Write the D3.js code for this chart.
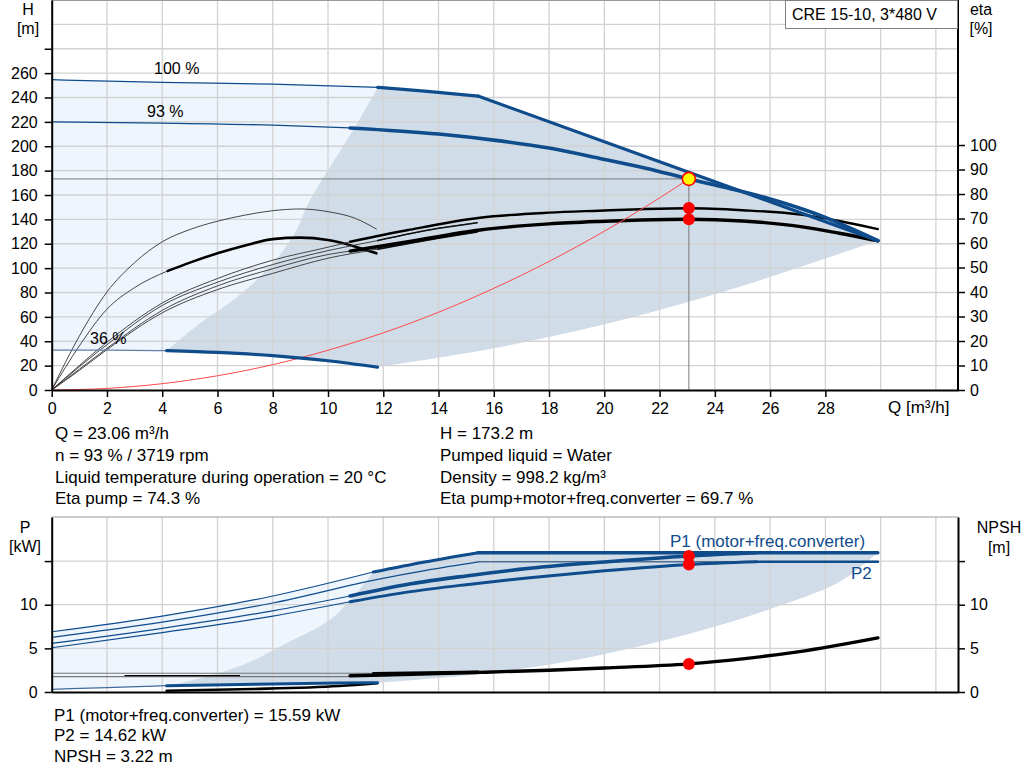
<!DOCTYPE html>
<html>
<head>
<meta charset="utf-8">
<script src="https://cdn.jsdelivr.net/npm/d3@7"></script>
<style>
  body { margin: 0; background: #fff; }
  svg { display: block; font-family: "Liberation Sans", Arial, sans-serif; }
  .axis text { font-size: 16px; fill: #000; }
</style>
</head>
<body>
<script>
// ---- data ----
// Q [m3/h], H [m]
const h100Thin = [[0, 254.6], [4, 252.4], [8, 251], [11.8, 248.3]];
const h100Thick = [[11.8, 248.3], [13.6, 245], [15.43, 241.2]];
const hMaxPower = [[15.43, 241.2], [29.9, 122.5]];
const h93Thin = [[0, 220], [4, 219], [8, 217.3], [10.8, 215]];
const h93Thick = [[10.8, 215], [14, 210], [16, 205], [18, 198.5], [19.84, 190], [21.5, 182],
                  [23.06, 173.2], [24.5, 165.5], [25.88, 157.5], [27.6, 145], [29.9, 122.5]];
const h36Thin = [[0, 32.8], [2, 32.8], [4.16, 32.3]];
const h36Thick = [[4.16, 32.3], [6, 30.8], [8, 28.2], [10, 24], [11.79, 18.7]];
const hLeftBound = [[11.8, 248.3], [10.9, 213], [10, 180.5], [9.35, 156], [8.75, 127], [7.78, 98.4],
                    [6.57, 73.8], [5.37, 54.7], [4.16, 32.3]];
const hLowBound = [[11.79, 18.7], [16, 34.2], [20.05, 54.1], [24.03, 78.8], [26.1, 93.5], [29.9, 122.5]];
const systemCurve = [[0, 0], [2, 1.3], [4, 5.2], [6, 11.7], [8, 20.8], [10, 32.6], [12, 46.9], [14, 63.8],
                     [16, 83.4], [18, 105.5], [20, 130.3], [22, 157.6], [23.06, 173.2]];

// Q, eta [%]
const etaPump93Thin = [[0, 0], [1, 10], [2, 19.5], [4, 35.5], [6, 45.5], [8, 53], [10, 58.3], [10.8, 60.5]];
const etaPump93Thick = [[10.8, 60.5], [12.9, 65.3], [15.5, 70.3], [18, 72.4], [19.8, 73.2], [21.3, 73.8],
                        [23.06, 74.2], [25, 73.4], [27.1, 71.6], [28.5, 69], [29.9, 65.7]];
const etaTot93Thin = [[0, 0], [1, 8.5], [2, 17], [4, 32.5], [6, 42.5], [8, 49.5], [10, 55.3], [10.8, 56.7]];
const etaTot93Thick = [[10.8, 56.7], [12.9, 60.5], [15.5, 65.3], [18, 67.8], [19.8, 68.8], [21.3, 69.4],
                       [23.06, 69.7], [25, 69], [27.1, 66.7], [28.5, 64], [29.9, 60.9]];
const etaPump100 = [[0, 0], [1, 9.5], [2, 18.5], [4, 34.5], [6, 44], [8, 51.2], [10, 56.9], [11.8, 61],
                    [14, 66], [15.4, 68.3]];
const etaTot100 = [[0, 0], [1, 8], [2, 16.5], [4, 31.5], [6, 41], [8, 47.6], [10, 53.8], [11.8, 57.5],
                   [14, 62], [15.4, 64.5]];
const etaPump36 = [[0, 0], [1, 22], [2, 40], [3, 52], [4, 60.5], [5, 65.5], [6, 68.9], [7, 71.4], [8, 73.2],
                   [9, 73.9], [10, 72.8], [11, 70], [11.75, 65.7]];
const etaTot36Thin = [[0, 0], [1, 18], [2, 33], [3, 41.8], [4.2, 48.6]];
const etaTot36Thick = [[4.2, 48.6], [5, 52], [6, 55.8], [7, 59], [8, 61.6], [9, 62.2], [10, 61.2],
                       [11, 58.5], [11.75, 55.8]];

// Q, P [kW]
const p1_100Thin = [[0, 6.9], [4, 8.7], [8, 11.0], [11.64, 13.75]];
const p1_100Thick = [[11.64, 13.75], [13.5, 14.9], [15.43, 15.96]];
const p1Max = [[15.43, 15.96], [29.9, 15.96]];
const p2_100 = [[0, 6.26], [4, 8.0], [8, 10.2], [11.8, 12.9], [13.5, 13.9], [15.5, 14.93]];
const p2Max = [[15.5, 14.93], [29.9, 14.93]];
const p1_93Thin = [[0, 5.57], [4, 7.3], [8, 9.3], [10.8, 11.0]];
const p1_93Thick = [[10.8, 11.0], [13, 12.4], [15, 13.3], [17.3, 14.17], [20, 14.9], [23.06, 15.59], [25.5, 15.96]];
const p2_93Thin = [[0, 5.07], [4, 6.8], [8, 8.7], [10.8, 10.34]];
const p2_93Thick = [[10.8, 10.34], [13, 11.5], [15, 12.3], [17.3, 13.1], [20, 13.9], [23.06, 14.62], [25.5, 14.93]];
const p2_93Flat = [[25.5, 14.93], [29.9, 14.93]];
const p1_36Thin = [[0, 0.31], [2, 0.5], [4.16, 0.72]];
const p1_36Thick = [[4.16, 0.72], [8, 0.93], [11.79, 1.07]];
const p2_36 = [[4.16, 0.15], [7.3, 0.34], [10.4, 0.69], [11.79, 1.0]];
const pLeftBound = [[11.64, 13.75], [10.2, 8.6], [8.5, 5.6], [7.06, 3.3], [5.37, 1.57], [4.16, 0.72]];
const pLowBound = [[11.79, 1.07], [15, 1.9], [17.5, 2.9], [19.57, 4.05], [21.5, 5.4], [23.79, 7.3],
                   [26, 9.5], [28.3, 12.25], [29.1, 13.9], [29.9, 15.96]];

// Q, NPSH [m]
const npsh100Thin = [[0, 2.14], [11.64, 2.14]];
const npsh100Thick = [[11.64, 2.12], [15.43, 2.28]];
const npsh93Thin = [[0, 1.76], [10.8, 1.76]];
const npsh93Thick = [[10.8, 1.87], [12, 1.95], [15.5, 2.25], [18, 2.5], [20, 2.75], [23.06, 3.22],
                     [25, 3.8], [27, 4.6], [29.9, 6.2]];
const npsh36 = [[2.65, 1.88], [6.8, 1.88]];

// duty point
const dutyQ = 23.06, dutyH = 173.2, dutyEtaPump = 74.3, dutyEtaTot = 69.7;
const dutyP1 = 15.59, dutyP2 = 14.62, dutyNpsh = 3.22;

// ticks
const qTicks = [0, 2, 4, 6, 8, 10, 12, 14, 16, 18, 20, 22, 24, 26, 28];
const qGrid = [2, 4, 6, 8, 10, 12, 14, 16, 18, 20, 22, 24, 26, 28, 30, 32];
const hTicks = [0, 20, 40, 60, 80, 100, 120, 140, 160, 180, 200, 220, 240, 260, 280];
const hGrid = [20, 40, 60, 80, 100, 120, 140, 160, 180, 200, 220, 240, 260, 280, 300];
const etaTicks = [0, 10, 20, 30, 40, 50, 60, 70, 80, 90, 100];
const pTicks = [0, 5, 10, 15];

const infoLeft = ["Q = 23.06 m³/h", "n = 93 % / 3719 rpm",
                  "Liquid temperature during operation = 20 °C", "Eta pump = 74.3 %"];
const infoRight = ["H = 173.2 m", "Pumped liquid = Water", "Density = 998.2 kg/m³",
                   "Eta pump+motor+freq.converter = 69.7 %"];
const infoBottom = ["P1 (motor+freq.converter) = 15.59 kW", "P2 = 14.62 kW", "NPSH = 3.22 m"];

// ---- layout ----
const W = 1024, H = 781;
const left = 51.7, right = 958;
const blue = "#0f4c8c", fillDark = "#d0dce7", fillLight = "#eef5fd", gridColor = "#d2d2d2";

const svg = d3.select("body").append("svg").attr("width", W).attr("height", H);

const x = d3.scaleLinear().domain([0, 32.8]).range([left, right]);
const yH = d3.scaleLinear().domain([0, 320]).range([390, 0]);
const yEta = d3.scaleLinear().domain([0, 159.2]).range([390, 0]);
const yP = d3.scaleLinear().domain([0, 20.05]).range([692, 517]);

function lineGen(ys, curve) {
    return d3.line().x(d => x(d[0])).y(d => ys(d[1])).curve(curve || d3.curveMonotoneX);
}

function drawLine(g, pts, ys, color, width, curve) {
    g.append("path")
        .attr("d", lineGen(ys, curve)(pts))
        .attr("fill", "none")
        .attr("stroke", color)
        .attr("stroke-width", width)
        .attr("stroke-linejoin", "round")
        .attr("stroke-linecap", "round");
}

// closed area built out of several curve pieces
function areaPath(pieces, ys) {
    return pieces.map((p, i) => {
        const d = lineGen(ys, p.curve || d3.curveCatmullRom)(p.pts);
        return i ? d.replace(/^M/, "L") : d;
    }).join("") + "Z";
}

const rev = a => a.slice().reverse();

function label(g, txt, px, py, opts = {}) {
    return g.append("text").attr("x", px).attr("y", py).text(txt)
        .attr("font-size", opts.size || 16)
        .attr("fill", opts.color || "#000")
        .attr("text-anchor", opts.anchor || "start");
}

// ================= top chart =================
const gTop = svg.append("g");

gTop.append("path")
    .attr("d", areaPath([{pts: h100Thin}, {pts: hLeftBound}, {pts: rev(h36Thin)}], yH))
    .attr("fill", fillLight);
gTop.append("path")
    .attr("d", areaPath([{pts: h100Thick}, {pts: hMaxPower, curve: d3.curveLinear}, {pts: rev(hLowBound)},
                         {pts: rev(h36Thick)}, {pts: rev(hLeftBound)}], yH))
    .attr("fill", fillDark);

// grid
gTop.selectAll(".vg").data(qGrid).join("line")
    .attr("x1", d => x(d)).attr("x2", d => x(d)).attr("y1", 0).attr("y2", 390)
    .attr("stroke", gridColor).attr("stroke-width", 1.3);
gTop.selectAll(".hg").data(hGrid).join("line")
    .attr("x1", left).attr("x2", right).attr("y1", d => yH(d)).attr("y2", d => yH(d))
    .attr("stroke", gridColor).attr("stroke-width", 1.3);
gTop.append("line").attr("x1", left).attr("x2", right).attr("y1", 0.5).attr("y2", 0.5)
    .attr("stroke", "#9a9a9a").attr("stroke-width", 1.2);

// duty guide lines
gTop.append("line").attr("x1", x(0)).attr("x2", x(dutyQ)).attr("y1", yH(dutyH)).attr("y2", yH(dutyH))
    .attr("stroke", "#7a7a7a").attr("stroke-width", 1);
gTop.append("line").attr("x1", x(dutyQ)).attr("x2", x(dutyQ)).attr("y1", yH(dutyH)).attr("y2", yH(0))
    .attr("stroke", "#7a7a7a").attr("stroke-width", 1);

// eta curves
drawLine(gTop, etaPump36, yEta, "#333", 0.9);
drawLine(gTop, etaTot36Thin, yEta, "#333", 0.9);
drawLine(gTop, etaTot36Thick, yEta, "#000", 2.6);
drawLine(gTop, etaPump100, yEta, "#333", 0.9);
drawLine(gTop, etaTot100, yEta, "#333", 0.9);
drawLine(gTop, etaPump100.filter(d => d[0] >= 11.8), yEta, "#111", 1.6);
drawLine(gTop, etaTot100.filter(d => d[0] >= 11.8), yEta, "#111", 1.6);
drawLine(gTop, etaPump93Thin, yEta, "#333", 0.9);
drawLine(gTop, etaTot93Thin, yEta, "#333", 0.9);
drawLine(gTop, etaPump93Thick, yEta, "#000", 2.4);
drawLine(gTop, etaTot93Thick, yEta, "#000", 3.4);

// system curve
drawLine(gTop, systemCurve, yH, "#ff4a4a", 1);

// QH curves
drawLine(gTop, h100Thin, yH, blue, 1.3);
drawLine(gTop, h100Thick, yH, blue, 3.2);
drawLine(gTop, hMaxPower, yH, blue, 3.2, d3.curveLinear);
drawLine(gTop, h93Thin, yH, blue, 1.3);
drawLine(gTop, h93Thick, yH, blue, 3.6);
drawLine(gTop, h36Thin, yH, "#5f7fa6", 1.3);
drawLine(gTop, h36Thick, yH, blue, 3.2);

// duty points
gTop.append("circle").attr("cx", x(dutyQ)).attr("cy", yEta(dutyEtaPump)).attr("r", 6).attr("fill", "#ff0000");
gTop.append("circle").attr("cx", x(dutyQ)).attr("cy", yEta(dutyEtaTot)).attr("r", 6).attr("fill", "#ff0000");
gTop.append("circle").attr("cx", x(dutyQ)).attr("cy", yH(dutyH)).attr("r", 6.5)
    .attr("fill", "#ffff00").attr("stroke", "#ff0000").attr("stroke-width", 1.6);

// axes
const axX = gTop.append("g").attr("class", "axis").attr("transform", "translate(0,390)")
    .call(d3.axisBottom(x).tickValues(qTicks).tickSize(7).tickSizeOuter(0).tickPadding(6));
const axH = gTop.append("g").attr("class", "axis").attr("transform", `translate(${left},0)`)
    .call(d3.axisLeft(yH).tickValues(hTicks).tickSize(7).tickSizeOuter(0).tickPadding(7)
        .tickFormat(d => d <= 260 ? d : ""));
const axE = gTop.append("g").attr("class", "axis").attr("transform", `translate(${right},0)`)
    .call(d3.axisRight(yEta).tickValues(etaTicks).tickSize(7).tickSizeOuter(0).tickPadding(5));
axE.select(".domain").attr("d", `M0,${yEta(0)}V0`);
[axX, axH, axE].forEach(a => {
    a.select(".domain").attr("stroke", "#000").attr("stroke-width", 2);
    a.selectAll(".tick line").attr("stroke", "#000").attr("stroke-width", 1.5);
});

label(gTop, "H", 28, 15, {anchor: "middle"});
label(gTop, "[m]", 28, 34, {anchor: "middle"});
label(gTop, "eta", 981, 15, {anchor: "middle"});
label(gTop, "[%]", 981, 34, {anchor: "middle"});
label(gTop, "Q [m³/h]", 888, 413, {size: 17});
label(gTop, "100 %", 154, 74);
label(gTop, "93 %", 147, 117);
label(gTop, "36 %", 90, 344);

gTop.append("rect").attr("x", 785.5).attr("y", 0.5).attr("width", 172).attr("height", 28)
    .attr("fill", "#fff").attr("stroke", "#808080").attr("stroke-width", 1);
label(gTop, "CRE 15-10, 3*480 V", 792, 20);

// info block
infoLeft.forEach((t, i) => label(svg, t, 55, 439 + i * 21.8, {size: 17}));
infoRight.forEach((t, i) => label(svg, t, 440, 439 + i * 21.8, {size: 17}));

// ================= bottom chart =================
const gBot = svg.append("g");

gBot.append("path")
    .attr("d", areaPath([{pts: p1_100Thin}, {pts: pLeftBound}, {pts: rev(p1_36Thin)}], yP))
    .attr("fill", fillLight);
gBot.append("path")
    .attr("d", areaPath([{pts: p1_100Thick}, {pts: p1Max, curve: d3.curveLinear}, {pts: rev(pLowBound)},
                         {pts: rev(p1_36Thick)}, {pts: rev(pLeftBound)}], yP))
    .attr("fill", fillDark);

gBot.selectAll(".vg").data(qGrid).join("line")
    .attr("x1", d => x(d)).attr("x2", d => x(d)).attr("y1", 517).attr("y2", 692)
    .attr("stroke", gridColor).attr("stroke-width", 1.3);
gBot.selectAll(".hg").data(pTicks.slice(1)).join("line")
    .attr("x1", left).attr("x2", right).attr("y1", d => yP(d)).attr("y2", d => yP(d))
    .attr("stroke", gridColor).attr("stroke-width", 1.3);
gBot.append("line").attr("x1", left).attr("x2", right).attr("y1", 517).attr("y2", 517)
    .attr("stroke", "#9a9a9a").attr("stroke-width", 1.2);

// NPSH
drawLine(gBot, npsh100Thin, yP, "#777", 1.1, d3.curveLinear);
drawLine(gBot, npsh93Thin, yP, "#777", 1.1, d3.curveLinear);
drawLine(gBot, npsh36, yP, "#000", 1.2, d3.curveLinear);
drawLine(gBot, npsh100Thick, yP, "#000", 3, d3.curveLinear);
drawLine(gBot, npsh93Thick, yP, "#000", 3.4);

// power
drawLine(gBot, p2_36, yP, "#000", 2.6);
drawLine(gBot, p1_36Thin, yP, "#3f6a9c", 1.2);
drawLine(gBot, p1_36Thick, yP, blue, 3);
drawLine(gBot, p1_100Thin, yP, blue, 1.2);
drawLine(gBot, p1_100Thick, yP, blue, 3);
drawLine(gBot, p1Max, yP, blue, 3.4, d3.curveLinear);
drawLine(gBot, p2_100, yP, blue, 1.2);
drawLine(gBot, p2Max, yP, "#4d6f96", 1.4, d3.curveLinear);
drawLine(gBot, p1_93Thin, yP, blue, 1.2);
drawLine(gBot, p1_93Thick, yP, blue, 3.6);
drawLine(gBot, p2_93Thin, yP, blue, 1.2);
drawLine(gBot, p2_93Thick, yP, blue, 3);
drawLine(gBot, p2_93Flat, yP, blue, 2.6, d3.curveLinear);

[dutyP1, dutyP2, dutyNpsh].forEach(v => {
    gBot.append("circle").attr("cx", x(dutyQ)).attr("cy", yP(v)).attr("r", 6).attr("fill", "#ff0000");
});

const bx = gBot.append("g").attr("transform", "translate(0,692)")
    .call(d3.axisBottom(x).tickValues([]).tickSizeOuter(0));
const bl = gBot.append("g").attr("class", "axis").attr("transform", `translate(${left},0)`)
    .call(d3.axisLeft(yP).tickValues(pTicks).tickSize(7).tickSizeOuter(0).tickPadding(7)
        .tickFormat(d => d <= 10 ? d : ""));
const br = gBot.append("g").attr("class", "axis").attr("transform", `translate(${right},0)`)
    .call(d3.axisRight(yP).tickValues(pTicks).tickSize(7).tickSizeOuter(0).tickPadding(5)
        .tickFormat(d => d <= 10 ? d : ""));
[bx, bl, br].forEach(a => {
    a.select(".domain").attr("stroke", "#000").attr("stroke-width", 2);
    a.selectAll(".tick line").attr("stroke", "#000").attr("stroke-width", 1.5);
});

label(gBot, "P", 25, 533, {anchor: "middle"});
label(gBot, "[kW]", 25, 552, {anchor: "middle"});
label(gBot, "NPSH", 999, 533, {anchor: "middle"});
label(gBot, "[m]", 999, 553, {anchor: "middle"});
label(gBot, "P1 (motor+freq.converter)", 670, 547, {color: blue, size: 17});
label(gBot, "P2", 851, 579, {color: blue, size: 17});

infoBottom.forEach((t, i) => label(svg, t, 54, 720.5 + i * 20.7, {size: 17}));
</script>
</body>
</html>
